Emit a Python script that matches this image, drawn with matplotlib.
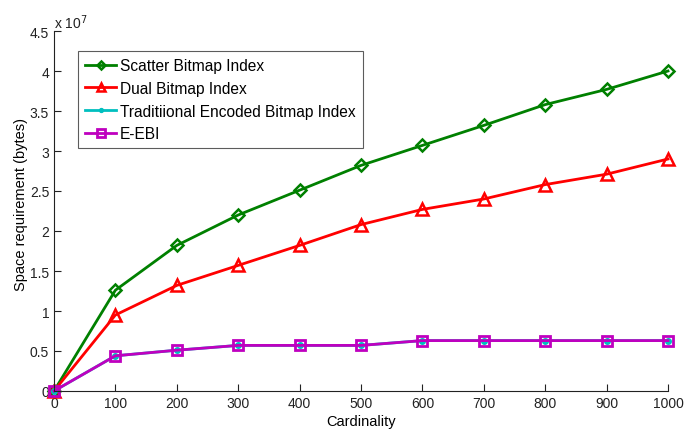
import matplotlib
matplotlib.use("Agg")
import matplotlib.pyplot as plt

plt.rcParams['font.family'] = ['Liberation Sans', 'DejaVu Sans']

cardinality = [0, 100, 200, 300, 400, 500, 600, 700, 800, 900, 1000]
scatter_idx = [0, 1.26, 1.82, 2.20, 2.51, 2.82, 3.07, 3.32, 3.58, 3.77, 4.00]
dual_idx = [0, 0.95, 1.32, 1.57, 1.82, 2.08, 2.27, 2.40, 2.58, 2.71, 2.90]
traditional_idx = [0, 0.44, 0.51, 0.57, 0.57, 0.57, 0.63, 0.63, 0.63, 0.63, 0.63]
eebi_idx = [0, 0.44, 0.51, 0.57, 0.57, 0.57, 0.63, 0.63, 0.63, 0.63, 0.63]
y_ticks = [0, 0.5, 1, 1.5, 2, 2.5, 3, 3.5, 4, 4.5]
x_ticks = cardinality

fig = plt.figure(figsize=(6.95, 4.35), dpi=100)
ax = fig.add_axes([54 / 695, 43 / 435, 614 / 695, 360 / 435])

lw = 2.0
ax.plot(cardinality, scatter_idx, color=(0, 0.5, 0), lw=lw, marker='D',
        ms=6.5, mfc='none', mew=1.8, label='Scatter Bitmap Index')
ax.plot(cardinality, dual_idx, color=(1, 0, 0), lw=lw, marker='^',
        ms=9, mfc='none', mew=1.8, label='Dual Bitmap Index')
ax.plot(cardinality, traditional_idx, color=(0, 0.75, 0.75), lw=lw, marker='o',
        ms=4, mfc=(0, 0.75, 0.75), label='Traditiional Encoded Bitmap Index')
ax.plot(cardinality, eebi_idx, color=(0.75, 0, 0.75), lw=lw, marker='s',
        ms=7.5, mfc='none', mew=2, label='E-EBI')

ax.set_xlim(0, 1000)
ax.set_ylim(0, 4.5)
ax.set_xticks(x_ticks)
ax.set_yticks(y_ticks)
ax.set_yticklabels([f"{v:g}" for v in y_ticks])
ax.tick_params(direction='in', length=5, labelsize=10, colors='#222222')
ax.spines['top'].set_visible(False)
ax.spines['right'].set_visible(False)
for s in ('left', 'bottom'):
    ax.spines[s].set_color('#222222')
for line in ax.lines:
    line.set_clip_on(False)

ax.set_xlabel('Cardinality', fontsize=10.5, labelpad=3)
ax.set_ylabel('Space requirement (bytes)', fontsize=10.5)
ax.yaxis.set_label_coords(-0.043, 0.52)
ax.text(0.0, 1.0, r'x 10$^{7}$', transform=ax.transAxes, fontsize=10,
        ha='left', va='bottom', color='#222222')

leg = ax.legend(loc='upper left', bbox_to_anchor=(0.039, 0.944), fontsize=11.2,
                frameon=True, fancybox=False, edgecolor='#333333',
                handlelength=2.0, borderpad=0.45, labelspacing=0.5,
                handletextpad=0.25, borderaxespad=0, markerscale=0.7)
leg.get_frame().set_linewidth(0.8)

fig.savefig('out.png', dpi=100)
